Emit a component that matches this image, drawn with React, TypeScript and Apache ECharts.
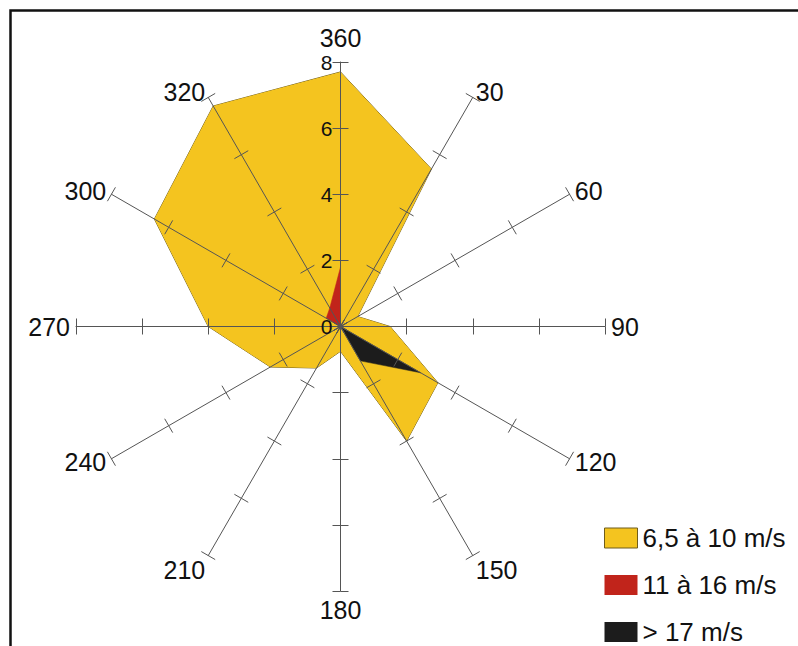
import React, { useEffect, useRef } from 'react';
import * as echarts from 'echarts';

// Wind directions, listed clockwise from north (the source labels 330 as "320")
const directions = ['360', '30', '60', '90', '120', '150', '180', '210', '240', '270', '300', '320'];
const seriesNames = ['6,5 à 10 m/s', '11 à 16 m/s', '> 17 m/s'];
// Frequencies per direction (clockwise, same order as directions)
const wind6to10 = [7.7, 5.5, 0.6, 1.5, 3.4, 4.0, 0.75, 1.45, 2.45, 4.0, 6.5, 7.7];
const wind11to16 = [1.8, 0, 0, 0, 0, 0, 0, 0, 0, 0, 0.5, 0.65];
const wind17plus = [0, 0, 0, 0, 2.8, 1.2, 0, 0, 0, 0, 0, 0];
const radialMin = 0;
const radialMax = 8;
const radialStep = 2;

const colors = ['#F4C41F', '#C1241B', '#1C1C1C'];
const FONT = '"Liberation Sans", Arial, sans-serif';

// ECharts radar lays indicators out counter-clockwise; a wind rose runs clockwise.
const order = directions.map((_, i) => (directions.length - i) % directions.length);
const ccw = <T,>(arr: T[]): T[] => order.map((i) => arr[i]);

export default function App() {
  const ref = useRef<HTMLDivElement>(null);

  useEffect(() => {
    if (!ref.current) return;
    const chart = echarts.init(ref.current, null, { renderer: 'svg' });
    const center = [340.5, 326.5];
    const radius = 264.5;
    const splitNumber = (radialMax - radialMin) / radialStep;

    const indicatorMain = ccw(directions).map((name) => ({ name, min: radialMin, max: radialMax }));
    const indicatorTicks = ccw(directions).map((name) => ({ name, min: radialMin, max: radialMax }));

    const lineColor = '#555';

    chart.setOption({
      animation: false,
      backgroundColor: '#fff',
      // polar system only used for the radial value labels on the north spoke
      polar: { center, radius },
      angleAxis: {
        type: 'value',
        min: 0,
        max: 360,
        startAngle: 90,
        show: false,
      },
      radiusAxis: {
        type: 'value',
        min: radialMin,
        max: radialMax,
        interval: radialStep,
        z: 6,
        axisLine: { show: false },
        axisTick: { show: false },
        splitLine: { show: false },
        axisLabel: { show: true, fontSize: 21, color: '#111', fontFamily: FONT, margin: 8 },
      },
      radar: [
        {
          center,
          radius,
          startAngle: 90,
          shape: 'polygon',
          splitNumber,
          indicator: indicatorMain,
          z: 5,
          axisName: {
            color: '#111',
            fontSize: 25,
            fontFamily: FONT,
            formatter: (name: string) =>
              name === '150' || name === '210' ? `{lo|${name}}` : name === '360' ? `{hi|${name}}` : name,
            rich: {
              lo: { fontSize: 25, fontFamily: FONT, color: '#111', padding: [18, 0, 0, 0] },
              hi: { fontSize: 25, fontFamily: FONT, color: '#111', padding: [0, 0, 6, 0] },
            },
          },
          axisNameGap: 6,
          axisLine: { show: true, lineStyle: { color: lineColor, width: 1 } },
          axisTick: { show: true, length: 8, lineStyle: { color: lineColor, width: 1 } },
          axisLabel: { show: false },
          splitLine: { show: false },
          splitArea: { show: false },
        },
        {
          center,
          radius,
          startAngle: 90,
          shape: 'polygon',
          splitNumber,
          indicator: indicatorTicks,
          z: 5,
          axisName: { show: false },
          axisLine: { show: false },
          axisTick: { show: true, length: -8, lineStyle: { color: lineColor, width: 1 } },
          axisLabel: { show: false },
          splitLine: { show: false },
          splitArea: { show: false },
        },
      ],
      legend: {
        orient: 'vertical',
        left: 604,
        top: 524,
        height: 160,
        padding: 0,
        itemWidth: 33,
        itemHeight: 20,
        itemGap: 19,
        icon: 'rect',
        textStyle: { fontSize: 26, lineHeight: 28, color: '#111', fontFamily: FONT },
        data: [
          { name: seriesNames[0], itemStyle: { borderColor: '#6f5d1c', borderWidth: 1 } },
          { name: seriesNames[1] },
          { name: seriesNames[2] },
        ],
      },
      series: [
        {
          type: 'radar',
          radarIndex: 0,
          symbol: 'none',
          z: 2,
          data: [
            {
              name: seriesNames[0],
              value: ccw(wind6to10),
              itemStyle: { color: colors[0] },
              lineStyle: { color: '#6f5d1c', width: 1 },
              areaStyle: { color: colors[0], opacity: 1 },
            },
            {
              name: seriesNames[1],
              value: ccw(wind11to16),
              itemStyle: { color: colors[1] },
              lineStyle: { color: colors[1], width: 0.5 },
              areaStyle: { color: colors[1], opacity: 1 },
            },
            {
              name: seriesNames[2],
              value: ccw(wind17plus),
              itemStyle: { color: colors[2] },
              lineStyle: { color: colors[2], width: 0.5 },
              areaStyle: { color: colors[2], opacity: 1 },
            },
          ],
        },
      ],
      graphic: [
        {
          type: 'rect',
          shape: { x: 10.5, y: 10.5, width: 800, height: 650 },
          style: { fill: 'none', stroke: '#111', lineWidth: 2.5 },
          z: 10,
          silent: true,
        },
      ],
    });

    return () => chart.dispose();
  }, []);

  return (
    <div
      ref={ref}
      style={{ position: 'absolute', left: 0, top: 0, width: 798, height: 646, background: '#fff' }}
    />
  );
}
